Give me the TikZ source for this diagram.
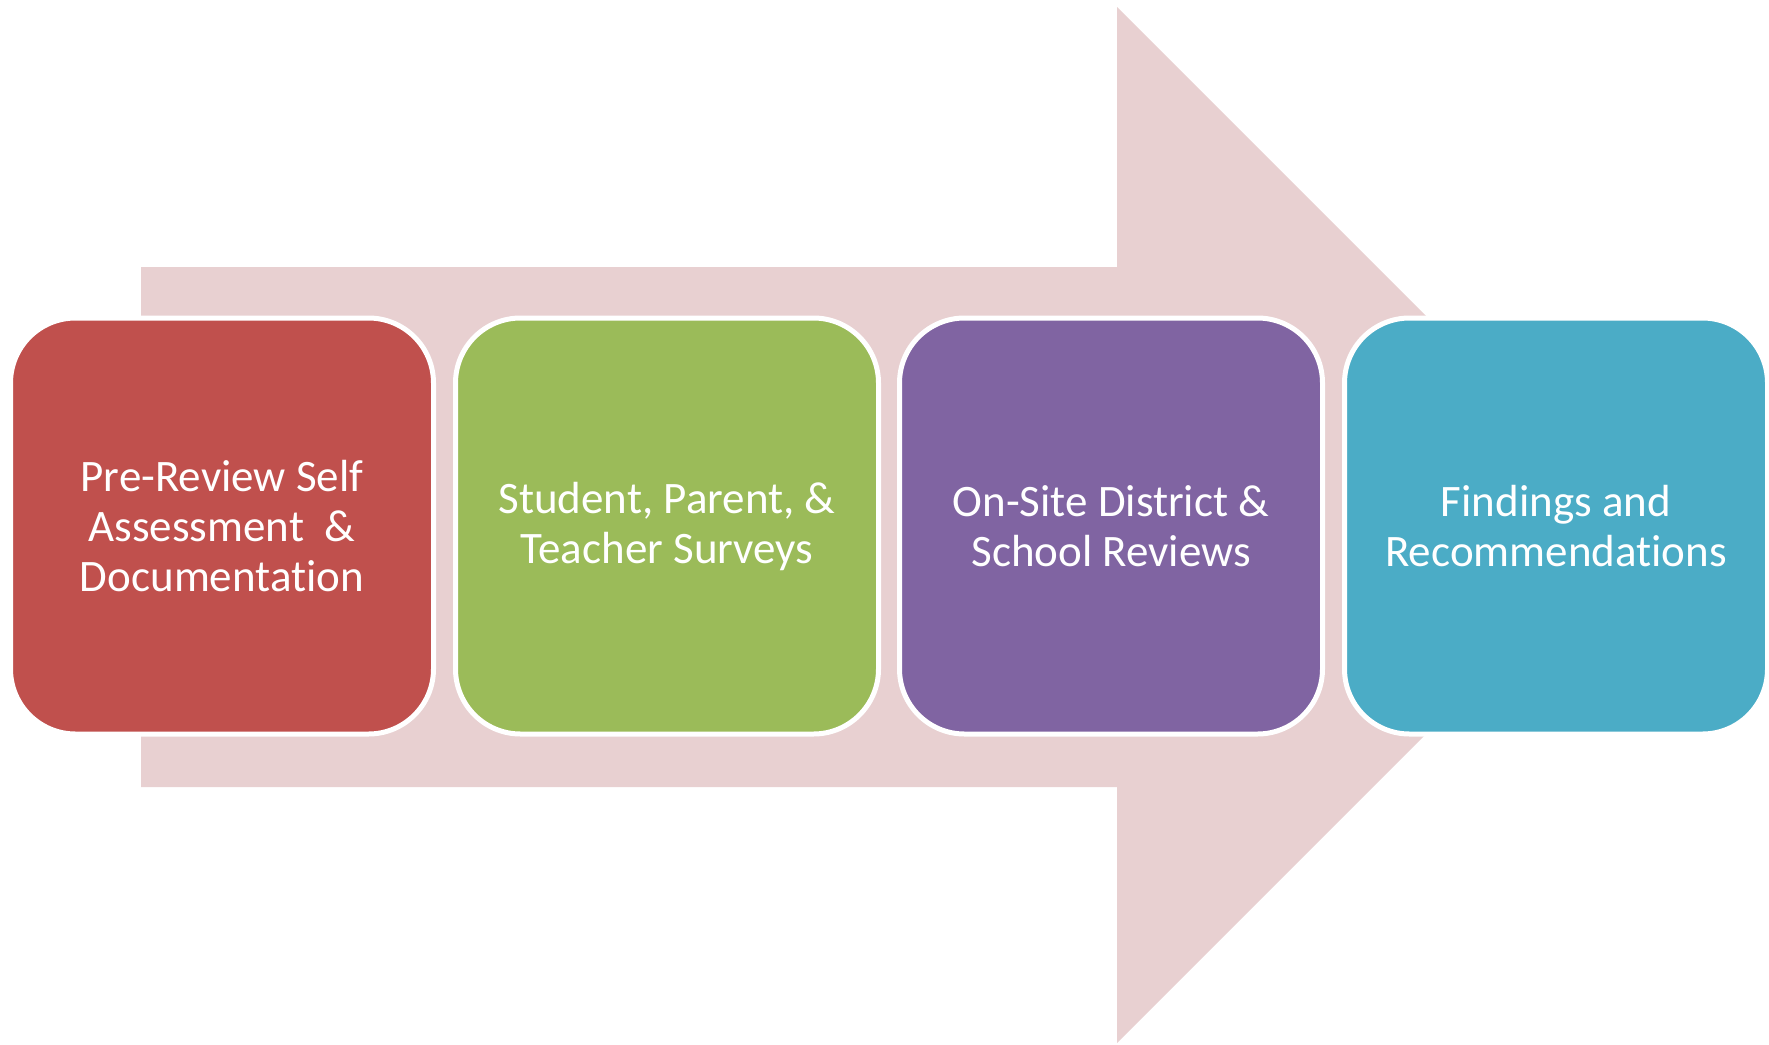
\documentclass[tikz,border=0pt]{standalone}
\usepackage{fontspec}
\setmainfont[Ligatures=NoCommon]{Carlito}
\definecolor{arrowpink}{HTML}{E8D0D1}
\definecolor{stagered}{HTML}{C0504D}
\definecolor{stagegreen}{HTML}{9BBB59}
\definecolor{stagepurple}{HTML}{8064A2}
\definecolor{stageblue}{HTML}{4BACC6}
\tikzset{
  stage/.style={draw=white, line width=5pt, rounded corners=65pt,
    minimum width=423pt, minimum height=416pt, inner sep=0pt,
    text=white, align=center, font=\fontsize{45}{50}\selectfont}
}
\begin{document}
\begin{tikzpicture}[x=1pt, y=-1pt]
\useasboundingbox (0,0) rectangle (1769,1044);
% big arrow behind the stages
\fill[arrowpink] (141,267)--(1117,267)--(1117,7)--(1635,525)--(1117,1043)--(1117,787)--(141,787)--cycle;
\node[stage, fill=stagered] (prereview) at (222,526) {Pre-Review Self\\Assessment\ \ \&\\Documentation};
\node[stage, fill=stagegreen] (surveys) at (667,526) {Student, Parent, \&\\Teacher Surveys};
\node[stage, fill=stagepurple] (onsite) at (1111,526) {On-Site District \&\\School Reviews};
\node[stage, fill=stageblue] (findings) at (1556,526) {Findings and\\Recommendations};
\end{tikzpicture}
\end{document}
